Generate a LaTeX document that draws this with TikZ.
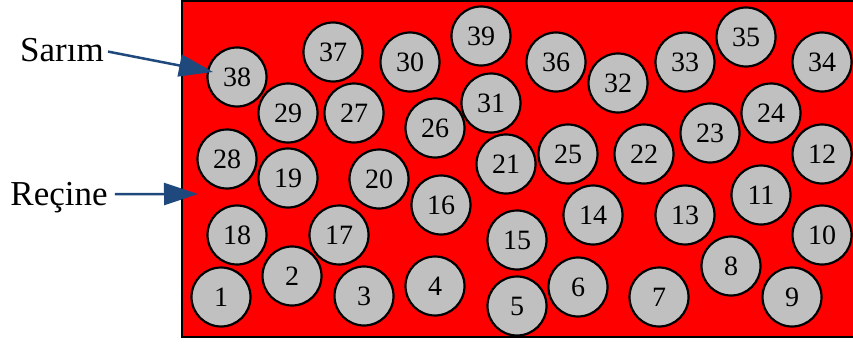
\documentclass[tikz,border=0pt]{standalone}
\usepackage{fontspec}
\setmainfont{Liberation Serif}
\usetikzlibrary{arrows.meta}
\definecolor{resin}{HTML}{FF0000}
\definecolor{fibergray}{HTML}{C0C0C0}
\definecolor{arrowblue}{HTML}{1F497D}
\begin{document}
\begin{tikzpicture}[x=1pt,y=-1pt,
  fiber/.style={circle,draw=black,fill=fibergray,line width=2.2pt,minimum size=59pt,inner sep=0pt,font=\fontsize{28}{28}\selectfont},
  lbl/.style={inner sep=0pt,font=\fontsize{35}{35}\selectfont,anchor=base},
  pointer/.style={draw=arrowblue,line width=2.5pt,-{Triangle[length=34pt,width=22pt]},fill=arrowblue}]
\clip (0,0) rectangle (853,345);
\fill[white] (0,0) rectangle (853,345);
\draw[fill=resin,line width=2pt] (182,1.5) rectangle (890,337);
\foreach \n/\x/\y in {
 38/237/77, 29/288/113, 28/227/159, 19/288/178, 18/237/235, 1/221/297, 2/292/276,
 37/333/52, 30/410/62, 39/481/36, 36/556/62, 27/354/113, 26/435/128, 31/491/103,
 21/506/164, 25/568/154, 20/379/179, 16/441/205, 17/339/235, 15/517/240,
 3/364/296, 4/435/286, 5/517/306, 6/578/287, 14/593/215,
 32/618/83, 33/685/62, 35/746/37, 34/822/62, 22/644/154, 23/710/133, 24/771/113,
 12/822/154, 11/761/195, 13/685/215, 10/822/235, 8/731/266, 7/659/297, 9/792/297}
 {\node[fiber] (f\n) at (\x,\y) {\n};}
\node[lbl] (sarim) at (62,61) {Sarım};
\node[lbl] (recine) at (59,205) {Reçine};
\coordinate (sarimtip) at (213,72);
\coordinate (recinetip) at (198,194);
\draw[pointer] ([shift={(4,2)}]sarim.east) -- (sarimtip);
\draw[pointer] ([shift={(7,-3)}]recine.east) -- (recinetip);
\end{tikzpicture}
\end{document}
